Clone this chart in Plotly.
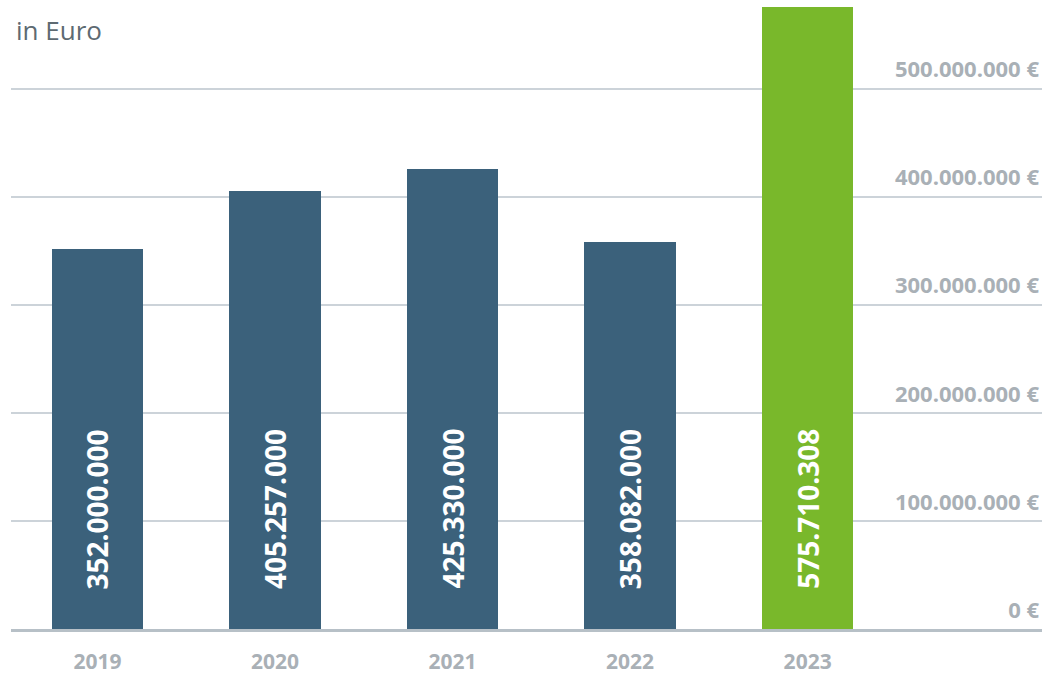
import plotly.graph_objects as go

# Jahreswerte in Euro
years = ["2019", "2020", "2021", "2022", "2023"]
values = [352000000, 405257000, 425330000, 358082000, 575710308]
bar_colors = ["#3b617b", "#3b617b", "#3b617b", "#3b617b", "#79b82b"]
tick_values = [0, 100000000, 200000000, 300000000, 400000000, 500000000]


def de_format(v):
    return f"{v:,}".replace(",", ".")


tick_text = [de_format(v) + " €" for v in tick_values]
positions = list(range(len(years)))

fig = go.Figure()
fig.add_trace(go.Bar(
    x=positions,
    y=values,
    width=0.515,
    marker=dict(color=bar_colors, line=dict(width=0)),
    hoverinfo="skip",
))

# rotated value labels inside the bars
for xi, v in zip(positions, values):
    fig.add_annotation(
        x=xi, y=111000000, xref="x", yref="y",
        text=de_format(v), textangle=-90, showarrow=False,
        font=dict(family="Open Sans", size=28, color="white", weight="bold"),
        xanchor="center", yanchor="middle",
    )

fig.add_annotation(
    x=0.003, y=0.952, xref="paper", yref="paper",
    text="in Euro", showarrow=False, xanchor="left", yanchor="middle",
    font=dict(family="Open Sans", size=26, color="#5d6a72"),
)

fig.update_layout(
    width=1048, height=675,
    margin=dict(l=11, r=6, t=0, b=43),
    plot_bgcolor="white", paper_bgcolor="white",
    showlegend=False,
    bargap=0,
)
fig.update_xaxes(
    range=[-0.487, 5.32],
    tickvals=positions, ticktext=years,
    showgrid=False, zeroline=False,
    showline=True, linecolor="#b7c0c7", linewidth=3,
    ticks="", ticklabelstandoff=12,
    tickfont=dict(family="Open Sans", size=21, color="#a9b0b6", weight="bold"),
)
fig.update_yaxes(
    range=[0, 582000000],
    side="right", tickvals=tick_values, ticktext=tick_text,
    ticklabelposition="inside", ticklabelshift=-19, ticklabelstandoff=0,
    showgrid=True, gridcolor="#ccd3d9", gridwidth=1.5,
    zeroline=False, showline=False, ticks="",
    tickfont=dict(family="Open Sans", size=22, color="#a9b0b6", weight="bold"),
)

fig.write_html("out.html")
